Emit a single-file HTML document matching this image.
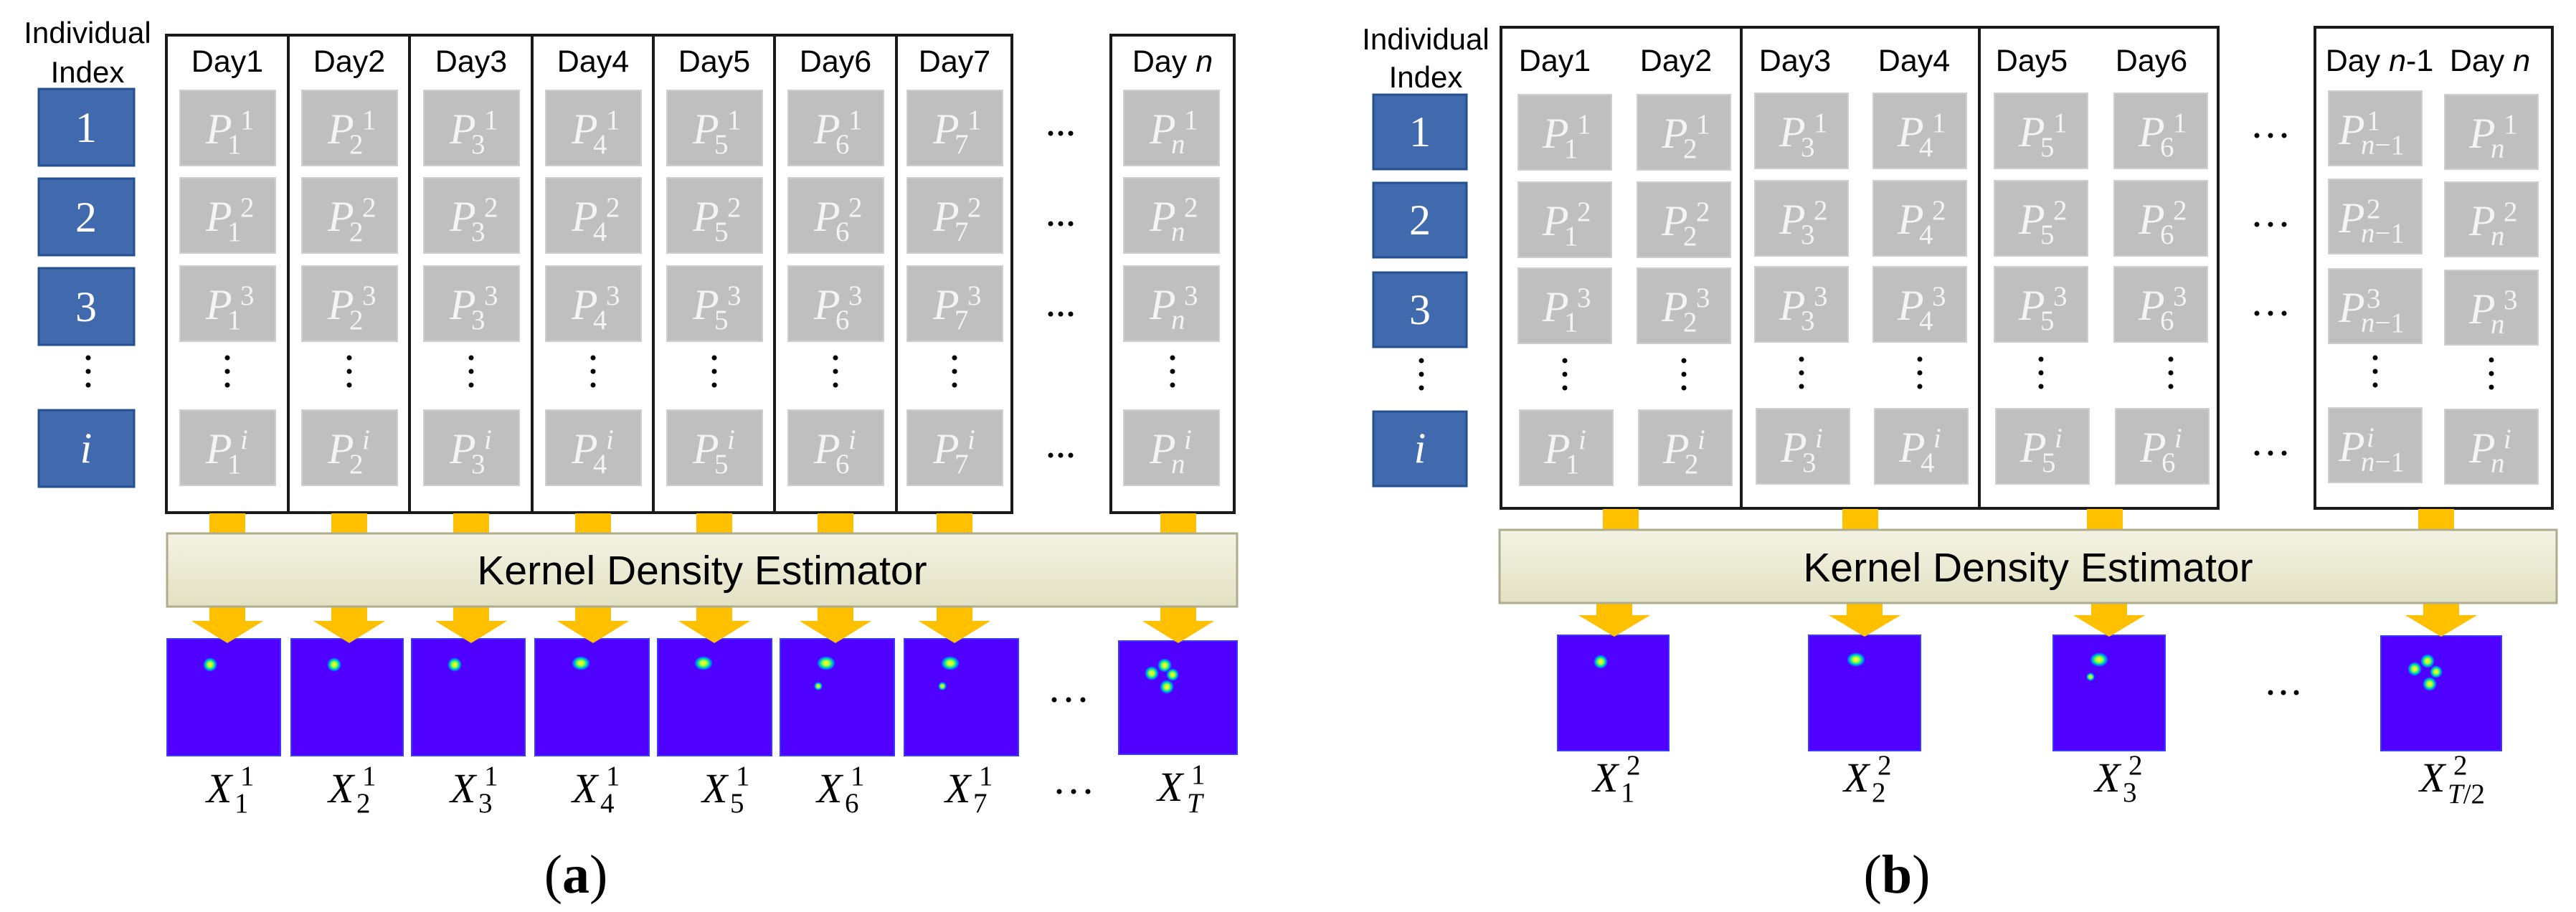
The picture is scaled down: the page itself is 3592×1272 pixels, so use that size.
<!DOCTYPE html>
<html><head><meta charset="utf-8"><style>
html,body{margin:0;padding:0;background:#fff;}
svg{display:block;}
.h{font-family:"Liberation Sans",Arial,sans-serif;fill:#000;}
.pm{font-family:"Liberation Serif",serif;font-style:italic;fill:#f4f4f4;}
.ps{font-family:"Liberation Serif",serif;fill:#f4f4f4;}
.xm{font-family:"Liberation Serif",serif;font-style:italic;fill:#000;}
.xs{font-family:"Liberation Serif",serif;fill:#000;}
.bn{font-family:"Liberation Serif",serif;fill:#fff;}
.g{fill:#bfbfbf;stroke:#cfcfcf;stroke-width:2;}
.b{fill:#4169ae;stroke:#24508f;stroke-width:3;}
.pu{fill:#5000ff;stroke:#3a3aff;stroke-width:2;}
.ar{fill:#ffc000;}
.fr{fill:none;stroke:#1a1a1a;stroke-width:4;}
text.pm[font-size="54"]{font-size:60px;transform:translateX(-4px);}
text.ps, text.pm[font-size="36"]{font-size:39px;}
text.xm[font-size="52"]{font-size:58px;transform:translateX(-4px);}
text.xs, text.xm[font-size="36"]{font-size:39px;}
text.bn{font-size:60px;}
g.h[font-size="41"] text{font-size:43px;}
</style></head><body>
<svg width="3592" height="1272" viewBox="0 0 3592 1272" xmlns="http://www.w3.org/2000/svg">
<defs>
<radialGradient id="dt"><stop offset="0" stop-color="#ffff40"/><stop offset="0.35" stop-color="#b0ff30"/><stop offset="0.6" stop-color="#00e0a0"/><stop offset="0.8" stop-color="#0080ff"/><stop offset="1" stop-color="#5000ff"/></radialGradient>
<linearGradient id="kd" x1="0" y1="0" x2="0" y2="1"><stop offset="0" stop-color="#f4f3e4"/><stop offset="1" stop-color="#e2e1c3"/></linearGradient>
</defs>

<!-- ===================== (a) ===================== -->
<text class="h" x="122" y="60" font-size="42" text-anchor="middle">Individual</text>
<text class="h" x="122" y="115" font-size="42" text-anchor="middle">Index</text>
<rect class="b" x="54" y="124" width="133" height="107"/><text class="bn" x="120" y="198" font-size="54" text-anchor="middle">1</text>
<rect class="b" x="54" y="249" width="133" height="107"/><text class="bn" x="120" y="323" font-size="54" text-anchor="middle">2</text>
<rect class="b" x="54" y="374" width="133" height="107"/><text class="bn" x="120" y="448" font-size="54" text-anchor="middle">3</text>
<circle cx="123" cy="499" r="3.5"/><circle cx="123" cy="518" r="3.5"/><circle cx="123" cy="537" r="3.5"/>
<rect class="b" x="54" y="572" width="133" height="107"/><text class="xm bn" x="120" y="645" font-size="54" text-anchor="middle" style="fill:#fff">i</text>

<rect class="fr" x="232" y="49" width="1179" height="666"/>
<line x1="402" y1="49" x2="402" y2="715" stroke="#1a1a1a" stroke-width="4"/>
<line x1="571" y1="49" x2="571" y2="715" stroke="#1a1a1a" stroke-width="4"/>
<line x1="742" y1="49" x2="742" y2="715" stroke="#1a1a1a" stroke-width="4"/>
<line x1="911" y1="49" x2="911" y2="715" stroke="#1a1a1a" stroke-width="4"/>
<line x1="1080" y1="49" x2="1080" y2="715" stroke="#1a1a1a" stroke-width="4"/>
<line x1="1250" y1="49" x2="1250" y2="715" stroke="#1a1a1a" stroke-width="4"/>
<rect class="fr" x="1549" y="49" width="172" height="666"/>

<g class="h" font-size="41" text-anchor="middle">
<text x="317" y="100">Day1</text><text x="487" y="100">Day2</text><text x="657" y="100">Day3</text><text x="827" y="100">Day4</text><text x="996" y="100">Day5</text><text x="1165" y="100">Day6</text><text x="1331" y="100">Day7</text>
<text x="1635" y="100">Day <tspan font-style="italic">n</tspan></text>
</g>

<g>
<rect class="g" x="251" y="126" width="133" height="105"/><text class="pm" x="291" y="200" font-size="54">P</text><text class="ps" x="335" y="180" font-size="36">1</text><text class="ps" x="317" y="214" font-size="36">1</text>
<rect class="g" x="251" y="248" width="133" height="105"/><text class="pm" x="291" y="322" font-size="54">P</text><text class="ps" x="335" y="302" font-size="36">2</text><text class="ps" x="317" y="336" font-size="36">1</text>
<rect class="g" x="251" y="371" width="133" height="105"/><text class="pm" x="291" y="445" font-size="54">P</text><text class="ps" x="335" y="425" font-size="36">3</text><text class="ps" x="317" y="459" font-size="36">1</text>
<circle cx="317" cy="499" r="3.5"/><circle cx="317" cy="518" r="3.5"/><circle cx="317" cy="537" r="3.5"/>
<rect class="g" x="251" y="572" width="133" height="105"/><text class="pm" x="291" y="646" font-size="54">P</text><text class="pm" x="335" y="626" font-size="36">i</text><text class="ps" x="317" y="660" font-size="36">1</text>
</g>
<g>
<rect class="g" x="421" y="126" width="133" height="105"/><text class="pm" x="461" y="200" font-size="54">P</text><text class="ps" x="505" y="180" font-size="36">1</text><text class="ps" x="487" y="214" font-size="36">2</text>
<rect class="g" x="421" y="248" width="133" height="105"/><text class="pm" x="461" y="322" font-size="54">P</text><text class="ps" x="505" y="302" font-size="36">2</text><text class="ps" x="487" y="336" font-size="36">2</text>
<rect class="g" x="421" y="371" width="133" height="105"/><text class="pm" x="461" y="445" font-size="54">P</text><text class="ps" x="505" y="425" font-size="36">3</text><text class="ps" x="487" y="459" font-size="36">2</text>
<circle cx="487" cy="499" r="3.5"/><circle cx="487" cy="518" r="3.5"/><circle cx="487" cy="537" r="3.5"/>
<rect class="g" x="421" y="572" width="133" height="105"/><text class="pm" x="461" y="646" font-size="54">P</text><text class="pm" x="505" y="626" font-size="36">i</text><text class="ps" x="487" y="660" font-size="36">2</text>
</g>
<g>
<rect class="g" x="591" y="126" width="133" height="105"/><text class="pm" x="631" y="200" font-size="54">P</text><text class="ps" x="675" y="180" font-size="36">1</text><text class="ps" x="657" y="214" font-size="36">3</text>
<rect class="g" x="591" y="248" width="133" height="105"/><text class="pm" x="631" y="322" font-size="54">P</text><text class="ps" x="675" y="302" font-size="36">2</text><text class="ps" x="657" y="336" font-size="36">3</text>
<rect class="g" x="591" y="371" width="133" height="105"/><text class="pm" x="631" y="445" font-size="54">P</text><text class="ps" x="675" y="425" font-size="36">3</text><text class="ps" x="657" y="459" font-size="36">3</text>
<circle cx="657" cy="499" r="3.5"/><circle cx="657" cy="518" r="3.5"/><circle cx="657" cy="537" r="3.5"/>
<rect class="g" x="591" y="572" width="133" height="105"/><text class="pm" x="631" y="646" font-size="54">P</text><text class="pm" x="675" y="626" font-size="36">i</text><text class="ps" x="657" y="660" font-size="36">3</text>
</g>
<g>
<rect class="g" x="761" y="126" width="133" height="105"/><text class="pm" x="801" y="200" font-size="54">P</text><text class="ps" x="845" y="180" font-size="36">1</text><text class="ps" x="827" y="214" font-size="36">4</text>
<rect class="g" x="761" y="248" width="133" height="105"/><text class="pm" x="801" y="322" font-size="54">P</text><text class="ps" x="845" y="302" font-size="36">2</text><text class="ps" x="827" y="336" font-size="36">4</text>
<rect class="g" x="761" y="371" width="133" height="105"/><text class="pm" x="801" y="445" font-size="54">P</text><text class="ps" x="845" y="425" font-size="36">3</text><text class="ps" x="827" y="459" font-size="36">4</text>
<circle cx="827" cy="499" r="3.5"/><circle cx="827" cy="518" r="3.5"/><circle cx="827" cy="537" r="3.5"/>
<rect class="g" x="761" y="572" width="133" height="105"/><text class="pm" x="801" y="646" font-size="54">P</text><text class="pm" x="845" y="626" font-size="36">i</text><text class="ps" x="827" y="660" font-size="36">4</text>
</g>
<g>
<rect class="g" x="930" y="126" width="133" height="105"/><text class="pm" x="970" y="200" font-size="54">P</text><text class="ps" x="1014" y="180" font-size="36">1</text><text class="ps" x="996" y="214" font-size="36">5</text>
<rect class="g" x="930" y="248" width="133" height="105"/><text class="pm" x="970" y="322" font-size="54">P</text><text class="ps" x="1014" y="302" font-size="36">2</text><text class="ps" x="996" y="336" font-size="36">5</text>
<rect class="g" x="930" y="371" width="133" height="105"/><text class="pm" x="970" y="445" font-size="54">P</text><text class="ps" x="1014" y="425" font-size="36">3</text><text class="ps" x="996" y="459" font-size="36">5</text>
<circle cx="996" cy="499" r="3.5"/><circle cx="996" cy="518" r="3.5"/><circle cx="996" cy="537" r="3.5"/>
<rect class="g" x="930" y="572" width="133" height="105"/><text class="pm" x="970" y="646" font-size="54">P</text><text class="pm" x="1014" y="626" font-size="36">i</text><text class="ps" x="996" y="660" font-size="36">5</text>
</g>
<g>
<rect class="g" x="1099" y="126" width="133" height="105"/><text class="pm" x="1139" y="200" font-size="54">P</text><text class="ps" x="1183" y="180" font-size="36">1</text><text class="ps" x="1165" y="214" font-size="36">6</text>
<rect class="g" x="1099" y="248" width="133" height="105"/><text class="pm" x="1139" y="322" font-size="54">P</text><text class="ps" x="1183" y="302" font-size="36">2</text><text class="ps" x="1165" y="336" font-size="36">6</text>
<rect class="g" x="1099" y="371" width="133" height="105"/><text class="pm" x="1139" y="445" font-size="54">P</text><text class="ps" x="1183" y="425" font-size="36">3</text><text class="ps" x="1165" y="459" font-size="36">6</text>
<circle cx="1165" cy="499" r="3.5"/><circle cx="1165" cy="518" r="3.5"/><circle cx="1165" cy="537" r="3.5"/>
<rect class="g" x="1099" y="572" width="133" height="105"/><text class="pm" x="1139" y="646" font-size="54">P</text><text class="pm" x="1183" y="626" font-size="36">i</text><text class="ps" x="1165" y="660" font-size="36">6</text>
</g>
<g>
<rect class="g" x="1265" y="126" width="133" height="105"/><text class="pm" x="1305" y="200" font-size="54">P</text><text class="ps" x="1349" y="180" font-size="36">1</text><text class="ps" x="1331" y="214" font-size="36">7</text>
<rect class="g" x="1265" y="248" width="133" height="105"/><text class="pm" x="1305" y="322" font-size="54">P</text><text class="ps" x="1349" y="302" font-size="36">2</text><text class="ps" x="1331" y="336" font-size="36">7</text>
<rect class="g" x="1265" y="371" width="133" height="105"/><text class="pm" x="1305" y="445" font-size="54">P</text><text class="ps" x="1349" y="425" font-size="36">3</text><text class="ps" x="1331" y="459" font-size="36">7</text>
<circle cx="1331" cy="499" r="3.5"/><circle cx="1331" cy="518" r="3.5"/><circle cx="1331" cy="537" r="3.5"/>
<rect class="g" x="1265" y="572" width="133" height="105"/><text class="pm" x="1305" y="646" font-size="54">P</text><text class="pm" x="1349" y="626" font-size="36">i</text><text class="ps" x="1331" y="660" font-size="36">7</text>
</g>
<g>
<rect class="g" x="1567" y="126" width="133" height="105"/><text class="pm" x="1607" y="200" font-size="54">P</text><text class="ps" x="1651" y="180" font-size="36">1</text><text class="pm" x="1633" y="214" font-size="36">n</text>
<rect class="g" x="1567" y="248" width="133" height="105"/><text class="pm" x="1607" y="322" font-size="54">P</text><text class="ps" x="1651" y="302" font-size="36">2</text><text class="pm" x="1633" y="336" font-size="36">n</text>
<rect class="g" x="1567" y="371" width="133" height="105"/><text class="pm" x="1607" y="445" font-size="54">P</text><text class="ps" x="1651" y="425" font-size="36">3</text><text class="pm" x="1633" y="459" font-size="36">n</text>
<circle cx="1635" cy="499" r="3.5"/><circle cx="1635" cy="518" r="3.5"/><circle cx="1635" cy="537" r="3.5"/>
<rect class="g" x="1567" y="572" width="133" height="105"/><text class="pm" x="1607" y="646" font-size="54">P</text><text class="pm" x="1651" y="626" font-size="36">i</text><text class="pm" x="1633" y="660" font-size="36">n</text>
</g>
<g>
<circle cx="1465" cy="186" r="3.5"/><circle cx="1479" cy="186" r="3.5"/><circle cx="1493" cy="186" r="3.5"/>
<circle cx="1465" cy="312" r="3.5"/><circle cx="1479" cy="312" r="3.5"/><circle cx="1493" cy="312" r="3.5"/>
<circle cx="1465" cy="438" r="3.5"/><circle cx="1479" cy="438" r="3.5"/><circle cx="1493" cy="438" r="3.5"/>
<circle cx="1465" cy="635" r="3.5"/><circle cx="1479" cy="635" r="3.5"/><circle cx="1493" cy="635" r="3.5"/>
<circle cx="1470" cy="976" r="3.5"/><circle cx="1490" cy="976" r="3.5"/><circle cx="1510" cy="976" r="3.5"/>
<circle cx="1477" cy="1104" r="3.5"/><circle cx="1497" cy="1104" r="3.5"/><circle cx="1517" cy="1104" r="3.5"/>
</g>

<g class="ar">
<rect x="292" y="716" width="50" height="30"/><rect x="462" y="716" width="50" height="30"/><rect x="632" y="716" width="50" height="30"/><rect x="802" y="716" width="50" height="30"/><rect x="971" y="716" width="50" height="30"/><rect x="1140" y="716" width="50" height="30"/><rect x="1306" y="716" width="50" height="30"/><rect x="1618" y="716" width="50" height="30"/>
<polygon points="292,846 342,846 342,866 367,866 317,897 267,866 292,866"/>
<polygon points="462,846 512,846 512,866 537,866 487,897 437,866 462,866"/>
<polygon points="632,846 682,846 682,866 707,866 657,897 607,866 632,866"/>
<polygon points="802,846 852,846 852,866 877,866 827,897 777,866 802,866"/>
<polygon points="971,846 1021,846 1021,866 1046,866 996,897 946,866 971,866"/>
<polygon points="1140,846 1190,846 1190,866 1215,866 1165,897 1115,866 1140,866"/>
<polygon points="1306,846 1356,846 1356,866 1381,866 1331,897 1281,866 1306,866"/>
<polygon points="1618,846 1668,846 1668,866 1693,866 1643,897 1593,866 1618,866"/>
</g>
<rect x="233" y="744" width="1492" height="102" fill="url(#kd)" stroke="#aeac8c" stroke-width="3"/>
<text class="h" x="979" y="815" font-size="57" text-anchor="middle">Kernel Density Estimator</text>

<g>
<rect class="pu" x="233" y="891" width="158" height="163"/>
<rect class="pu" x="406" y="891" width="156" height="163"/>
<rect class="pu" x="574" y="891" width="158" height="163"/>
<rect class="pu" x="746" y="891" width="159" height="163"/>
<rect class="pu" x="917" y="891" width="159" height="163"/>
<rect class="pu" x="1088" y="891" width="159" height="163"/>
<rect class="pu" x="1261" y="891" width="159" height="163"/>
<rect class="pu" x="1560" y="894" width="165" height="158"/>
</g>
<g class="ar">
<polygon points="267,866 367,866 317,897"/><polygon points="437,866 537,866 487,897"/><polygon points="607,866 707,866 657,897"/><polygon points="777,866 877,866 827,897"/><polygon points="946,866 1046,866 996,897"/><polygon points="1115,866 1215,866 1165,897"/><polygon points="1281,866 1381,866 1331,897"/><polygon points="1593,866 1693,866 1643,897"/>
</g>
<g fill="url(#dt)">
<circle cx="293" cy="927" r="10"/>
<circle cx="466" cy="927" r="10"/>
<circle cx="634" cy="927" r="10"/>
<ellipse cx="810" cy="925" rx="13" ry="10"/>
<ellipse cx="981" cy="925" rx="13" ry="10"/>
<ellipse cx="1152" cy="925" rx="13" ry="10"/><circle cx="1141" cy="957" r="6"/>
<ellipse cx="1325" cy="925" rx="13" ry="10"/><circle cx="1314" cy="957" r="6"/>
<circle cx="1624" cy="928" r="10"/><circle cx="1606" cy="939" r="10"/><circle cx="1635" cy="941" r="9"/><circle cx="1627" cy="958" r="10"/>
</g>
<g>
<text class="xm" x="292" y="1119" font-size="52">X</text><text class="xs" x="335" y="1095" font-size="36">1</text><text class="xs" x="327" y="1133" font-size="36">1</text>
<text class="xm" x="462" y="1119" font-size="52">X</text><text class="xs" x="505" y="1095" font-size="36">1</text><text class="xs" x="497" y="1133" font-size="36">2</text>
<text class="xm" x="632" y="1119" font-size="52">X</text><text class="xs" x="675" y="1095" font-size="36">1</text><text class="xs" x="667" y="1133" font-size="36">3</text>
<text class="xm" x="802" y="1119" font-size="52">X</text><text class="xs" x="845" y="1095" font-size="36">1</text><text class="xs" x="837" y="1133" font-size="36">4</text>
<text class="xm" x="983" y="1119" font-size="52">X</text><text class="xs" x="1026" y="1095" font-size="36">1</text><text class="xs" x="1018" y="1133" font-size="36">5</text>
<text class="xm" x="1143" y="1119" font-size="52">X</text><text class="xs" x="1186" y="1095" font-size="36">1</text><text class="xs" x="1178" y="1133" font-size="36">6</text>
<text class="xm" x="1322" y="1119" font-size="52">X</text><text class="xs" x="1365" y="1095" font-size="36">1</text><text class="xs" x="1357" y="1133" font-size="36">7</text>
<text class="xm" x="1618" y="1117" font-size="52">X</text><text class="xs" x="1661" y="1093" font-size="36">1</text><text class="xm" x="1655" y="1133" font-size="36">T</text>
</g>
<text x="803" y="1245" font-family="Liberation Serif,serif" font-size="76" text-anchor="middle">(<tspan font-weight="bold">a</tspan>)</text>

<!-- ===================== (b) ===================== -->
<text class="h" x="1988" y="69" font-size="42" text-anchor="middle">Individual</text>
<text class="h" x="1988" y="122" font-size="42" text-anchor="middle">Index</text>
<rect class="b" x="1915" y="132" width="130" height="104"/><text class="bn" x="1980" y="204" font-size="54" text-anchor="middle">1</text>
<rect class="b" x="1915" y="255" width="130" height="104"/><text class="bn" x="1980" y="327" font-size="54" text-anchor="middle">2</text>
<rect class="b" x="1915" y="380" width="130" height="104"/><text class="bn" x="1980" y="452" font-size="54" text-anchor="middle">3</text>
<circle cx="1982" cy="503" r="3.5"/><circle cx="1982" cy="522" r="3.5"/><circle cx="1982" cy="541" r="3.5"/>
<rect class="b" x="1915" y="574" width="130" height="104"/><text class="xm bn" x="1980" y="645" font-size="54" text-anchor="middle" style="fill:#fff">i</text>

<rect class="fr" x="2093" y="38" width="1000" height="671"/>
<line x1="2428" y1="38" x2="2428" y2="709" stroke="#1a1a1a" stroke-width="4"/>
<line x1="2760" y1="38" x2="2760" y2="709" stroke="#1a1a1a" stroke-width="4"/>
<rect class="fr" x="3228" y="38" width="331" height="671"/>
<g class="h" font-size="41" text-anchor="middle">
<text x="2168" y="99">Day1</text><text x="2337" y="99">Day2</text><text x="2503" y="99">Day3</text><text x="2669" y="99">Day4</text><text x="2833" y="99">Day5</text><text x="3000" y="99">Day6</text>
<text x="3318" y="99">Day <tspan font-style="italic">n</tspan>-1</text><text x="3472" y="99">Day <tspan font-style="italic">n</tspan></text>
</g>

<g>
<rect class="g" x="2117" y="132" width="130" height="105"/><text class="pm" x="2155" y="206" font-size="54">P</text><text class="ps" x="2199" y="186" font-size="36">1</text><text class="ps" x="2181" y="220" font-size="36">1</text>
<rect class="g" x="2117" y="254" width="130" height="105"/><text class="pm" x="2155" y="328" font-size="54">P</text><text class="ps" x="2199" y="308" font-size="36">2</text><text class="ps" x="2181" y="342" font-size="36">1</text>
<rect class="g" x="2117" y="374" width="130" height="105"/><text class="pm" x="2155" y="448" font-size="54">P</text><text class="ps" x="2199" y="428" font-size="36">3</text><text class="ps" x="2181" y="462" font-size="36">1</text>
<circle cx="2182" cy="503" r="3.5"/><circle cx="2182" cy="522" r="3.5"/><circle cx="2182" cy="541" r="3.5"/>
<rect class="g" x="2119" y="572" width="130" height="105"/><text class="pm" x="2157" y="646" font-size="54">P</text><text class="pm" x="2201" y="626" font-size="36">i</text><text class="ps" x="2183" y="660" font-size="36">1</text>
<rect class="g" x="2283" y="132" width="130" height="105"/><text class="pm" x="2321" y="206" font-size="54">P</text><text class="ps" x="2365" y="186" font-size="36">1</text><text class="ps" x="2347" y="220" font-size="36">2</text>
<rect class="g" x="2283" y="254" width="130" height="105"/><text class="pm" x="2321" y="328" font-size="54">P</text><text class="ps" x="2365" y="308" font-size="36">2</text><text class="ps" x="2347" y="342" font-size="36">2</text>
<rect class="g" x="2283" y="374" width="130" height="105"/><text class="pm" x="2321" y="448" font-size="54">P</text><text class="ps" x="2365" y="428" font-size="36">3</text><text class="ps" x="2347" y="462" font-size="36">2</text>
<circle cx="2348" cy="503" r="3.5"/><circle cx="2348" cy="522" r="3.5"/><circle cx="2348" cy="541" r="3.5"/>
<rect class="g" x="2285" y="572" width="130" height="105"/><text class="pm" x="2323" y="646" font-size="54">P</text><text class="pm" x="2367" y="626" font-size="36">i</text><text class="ps" x="2349" y="660" font-size="36">2</text>
<rect class="g" x="2447" y="130" width="130" height="105"/><text class="pm" x="2485" y="204" font-size="54">P</text><text class="ps" x="2529" y="184" font-size="36">1</text><text class="ps" x="2511" y="218" font-size="36">3</text>
<rect class="g" x="2447" y="252" width="130" height="105"/><text class="pm" x="2485" y="326" font-size="54">P</text><text class="ps" x="2529" y="306" font-size="36">2</text><text class="ps" x="2511" y="340" font-size="36">3</text>
<rect class="g" x="2447" y="372" width="130" height="105"/><text class="pm" x="2485" y="446" font-size="54">P</text><text class="ps" x="2529" y="426" font-size="36">3</text><text class="ps" x="2511" y="460" font-size="36">3</text>
<circle cx="2512" cy="501" r="3.5"/><circle cx="2512" cy="520" r="3.5"/><circle cx="2512" cy="539" r="3.5"/>
<rect class="g" x="2449" y="570" width="130" height="105"/><text class="pm" x="2487" y="644" font-size="54">P</text><text class="pm" x="2531" y="624" font-size="36">i</text><text class="ps" x="2513" y="658" font-size="36">3</text>
<rect class="g" x="2612" y="130" width="130" height="105"/><text class="pm" x="2650" y="204" font-size="54">P</text><text class="ps" x="2694" y="184" font-size="36">1</text><text class="ps" x="2676" y="218" font-size="36">4</text>
<rect class="g" x="2612" y="252" width="130" height="105"/><text class="pm" x="2650" y="326" font-size="54">P</text><text class="ps" x="2694" y="306" font-size="36">2</text><text class="ps" x="2676" y="340" font-size="36">4</text>
<rect class="g" x="2612" y="372" width="130" height="105"/><text class="pm" x="2650" y="446" font-size="54">P</text><text class="ps" x="2694" y="426" font-size="36">3</text><text class="ps" x="2676" y="460" font-size="36">4</text>
<circle cx="2677" cy="501" r="3.5"/><circle cx="2677" cy="520" r="3.5"/><circle cx="2677" cy="539" r="3.5"/>
<rect class="g" x="2614" y="570" width="130" height="105"/><text class="pm" x="2652" y="644" font-size="54">P</text><text class="pm" x="2696" y="624" font-size="36">i</text><text class="ps" x="2678" y="658" font-size="36">4</text>
<rect class="g" x="2781" y="130" width="130" height="105"/><text class="pm" x="2819" y="204" font-size="54">P</text><text class="ps" x="2863" y="184" font-size="36">1</text><text class="ps" x="2845" y="218" font-size="36">5</text>
<rect class="g" x="2781" y="252" width="130" height="105"/><text class="pm" x="2819" y="326" font-size="54">P</text><text class="ps" x="2863" y="306" font-size="36">2</text><text class="ps" x="2845" y="340" font-size="36">5</text>
<rect class="g" x="2781" y="372" width="130" height="105"/><text class="pm" x="2819" y="446" font-size="54">P</text><text class="ps" x="2863" y="426" font-size="36">3</text><text class="ps" x="2845" y="460" font-size="36">5</text>
<circle cx="2846" cy="501" r="3.5"/><circle cx="2846" cy="520" r="3.5"/><circle cx="2846" cy="539" r="3.5"/>
<rect class="g" x="2783" y="570" width="130" height="105"/><text class="pm" x="2821" y="644" font-size="54">P</text><text class="pm" x="2865" y="624" font-size="36">i</text><text class="ps" x="2847" y="658" font-size="36">5</text>
<rect class="g" x="2948" y="130" width="130" height="105"/><text class="pm" x="2986" y="204" font-size="54">P</text><text class="ps" x="3030" y="184" font-size="36">1</text><text class="ps" x="3012" y="218" font-size="36">6</text>
<rect class="g" x="2948" y="252" width="130" height="105"/><text class="pm" x="2986" y="326" font-size="54">P</text><text class="ps" x="3030" y="306" font-size="36">2</text><text class="ps" x="3012" y="340" font-size="36">6</text>
<rect class="g" x="2948" y="372" width="130" height="105"/><text class="pm" x="2986" y="446" font-size="54">P</text><text class="ps" x="3030" y="426" font-size="36">3</text><text class="ps" x="3012" y="460" font-size="36">6</text>
<circle cx="3027" cy="501" r="3.5"/><circle cx="3027" cy="520" r="3.5"/><circle cx="3027" cy="539" r="3.5"/>
<rect class="g" x="2950" y="570" width="130" height="105"/><text class="pm" x="2988" y="644" font-size="54">P</text><text class="pm" x="3032" y="624" font-size="36">i</text><text class="ps" x="3014" y="658" font-size="36">6</text>
<rect class="g" x="3247" y="127" width="130" height="104"/><text class="pm" x="3265" y="201" font-size="54">P</text><text class="ps" x="3300" y="181" font-size="36">1</text><text class="pm" x="3292" y="215" font-size="36">n<tspan font-style="normal">−1</tspan></text>
<rect class="g" x="3247" y="250" width="130" height="104"/><text class="pm" x="3265" y="324" font-size="54">P</text><text class="ps" x="3300" y="304" font-size="36">2</text><text class="pm" x="3292" y="338" font-size="36">n<tspan font-style="normal">−1</tspan></text>
<rect class="g" x="3247" y="375" width="130" height="104"/><text class="pm" x="3265" y="449" font-size="54">P</text><text class="ps" x="3300" y="429" font-size="36">3</text><text class="pm" x="3292" y="463" font-size="36">n<tspan font-style="normal">−1</tspan></text>
<circle cx="3312" cy="499" r="3.5"/><circle cx="3312" cy="518" r="3.5"/><circle cx="3312" cy="537" r="3.5"/>
<rect class="g" x="3247" y="569" width="130" height="104"/><text class="pm" x="3265" y="643" font-size="54">P</text><text class="pm" x="3300" y="623" font-size="36">i</text><text class="pm" x="3292" y="657" font-size="36">n<tspan font-style="normal">−1</tspan></text>
<rect class="g" x="3409" y="132" width="130" height="104"/><text class="pm" x="3447" y="206" font-size="54">P</text><text class="ps" x="3491" y="186" font-size="36">1</text><text class="pm" x="3473" y="220" font-size="36">n</text>
<rect class="g" x="3409" y="254" width="130" height="104"/><text class="pm" x="3447" y="328" font-size="54">P</text><text class="ps" x="3491" y="308" font-size="36">2</text><text class="pm" x="3473" y="342" font-size="36">n</text>
<rect class="g" x="3409" y="377" width="130" height="104"/><text class="pm" x="3447" y="451" font-size="54">P</text><text class="ps" x="3491" y="431" font-size="36">3</text><text class="pm" x="3473" y="465" font-size="36">n</text>
<circle cx="3474" cy="502" r="3.5"/><circle cx="3474" cy="521" r="3.5"/><circle cx="3474" cy="540" r="3.5"/>
<rect class="g" x="3409" y="571" width="130" height="104"/><text class="pm" x="3447" y="645" font-size="54">P</text><text class="pm" x="3491" y="625" font-size="36">i</text><text class="pm" x="3473" y="659" font-size="36">n</text>
</g>
<g>
<circle cx="3147" cy="189" r="3.5"/><circle cx="3166" cy="189" r="3.5"/><circle cx="3185" cy="189" r="3.5"/>
<circle cx="3147" cy="313" r="3.5"/><circle cx="3166" cy="313" r="3.5"/><circle cx="3185" cy="313" r="3.5"/>
<circle cx="3147" cy="437" r="3.5"/><circle cx="3166" cy="437" r="3.5"/><circle cx="3185" cy="437" r="3.5"/>
<circle cx="3147" cy="632" r="3.5"/><circle cx="3166" cy="632" r="3.5"/><circle cx="3185" cy="632" r="3.5"/>
<circle cx="3166" cy="966" r="3.5"/><circle cx="3184" cy="966" r="3.5"/><circle cx="3202" cy="966" r="3.5"/>
</g>

<g class="ar">
<rect x="2235" y="710" width="50" height="30"/><rect x="2569" y="710" width="50" height="30"/><rect x="2910" y="710" width="50" height="30"/><rect x="3372" y="710" width="50" height="30"/>
<polygon points="2226,842 2276,842 2276,858 2301,858 2251,888 2201,858 2226,858"/>
<polygon points="2575,842 2625,842 2625,858 2650,858 2600,888 2550,858 2575,858"/>
<polygon points="2916,842 2966,842 2966,858 2991,858 2941,888 2891,858 2916,858"/>
<polygon points="3379,842 3429,842 3429,858 3454,858 3404,888 3354,858 3379,858"/>
</g>
<rect x="2091" y="739" width="1474" height="102" fill="url(#kd)" stroke="#aeac8c" stroke-width="3"/>
<text class="h" x="2828" y="811" font-size="57" text-anchor="middle">Kernel Density Estimator</text>

<rect class="pu" x="2172" y="886" width="155" height="161"/>
<rect class="pu" x="2522" y="886" width="156" height="161"/>
<rect class="pu" x="2863" y="886" width="156" height="161"/>
<rect class="pu" x="3320" y="887" width="168" height="160"/>
<g class="ar">
<polygon points="2201,858 2301,858 2251,888"/><polygon points="2550,858 2650,858 2600,888"/><polygon points="2891,858 2991,858 2941,888"/><polygon points="3354,858 3454,858 3404,888"/>
</g>
<g fill="url(#dt)">
<circle cx="2232" cy="923" r="10"/>
<ellipse cx="2588" cy="920" rx="13" ry="10"/>
<ellipse cx="2927" cy="920" rx="13" ry="10"/><circle cx="2915" cy="944" r="6"/>
<circle cx="3385" cy="922" r="10"/><circle cx="3367" cy="933" r="10"/><circle cx="3397" cy="937" r="9"/><circle cx="3388" cy="954" r="10"/>
</g>
<g>
<text class="xm" x="2225" y="1104" font-size="52">X</text><text class="xs" x="2268" y="1080" font-size="36">2</text><text class="xs" x="2260" y="1118" font-size="36">1</text>
<text class="xm" x="2575" y="1104" font-size="52">X</text><text class="xs" x="2618" y="1080" font-size="36">2</text><text class="xs" x="2610" y="1118" font-size="36">2</text>
<text class="xm" x="2925" y="1104" font-size="52">X</text><text class="xs" x="2968" y="1080" font-size="36">2</text><text class="xs" x="2960" y="1118" font-size="36">3</text>
<text class="xm" x="3378" y="1104" font-size="52">X</text><text class="xs" x="3421" y="1080" font-size="36">2</text><text class="xm" x="3413" y="1120" font-size="36">T<tspan font-style="normal">/2</tspan></text>
</g>
<text x="2645" y="1245" font-family="Liberation Serif,serif" font-size="76" text-anchor="middle">(<tspan font-weight="bold">b</tspan>)</text>
</svg>
</body></html>
